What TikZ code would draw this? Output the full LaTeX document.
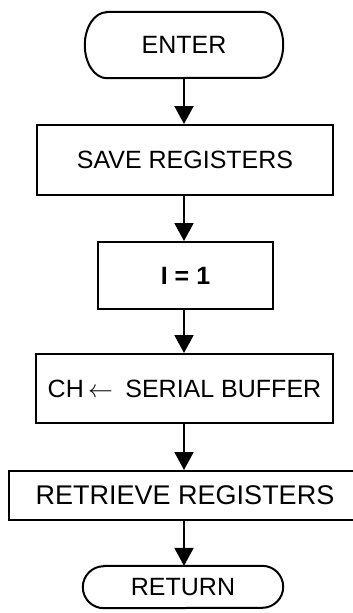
\documentclass[tikz,border=0pt]{standalone}
\usepackage{fontspec}
\setmainfont{Liberation Sans}
\usetikzlibrary{arrows.meta}

\tikzset{
  stepbox/.style={draw, line width=2pt, inner sep=0pt, minimum width=#1,
    font=\fontsize{25}{30}\selectfont},
  termnode/.style={inner sep=0pt, minimum width=#1,
    font=\fontsize{25}{30}\selectfont},
  outline/.style={line width=2pt},
  flow/.style={line width=2pt, -{Triangle[width=19pt,length=18pt]}},
}

\begin{document}
\begin{tikzpicture}[x=1pt, y=-1pt]
  \useasboundingbox (0,0) rectangle (353,613);

  % terminals and process boxes
  \node[termnode=198pt, minimum height=66pt] (enter) at (184,45) {ENTER};
  \node[stepbox=296pt, minimum height=70pt] (save) at (185,160) {SAVE REGISTERS};
  \node[stepbox=175pt, minimum height=67pt] (init) at (185.5,275.5) {\bfseries I = 1};
  \node[stepbox=297pt, minimum height=69pt] (fetch) at (184.5,388.5)
    {CH\,$\leftarrow$\enspace SERIAL BUFFER};
  \node[stepbox=352pt, minimum height=49pt, font=\fontsize{27}{32}\selectfont]
    (restore) at (185,495.5) {RETRIEVE REGISTERS};
  \node[termnode=200pt, minimum height=42pt] (ret) at (183,587) {RETURN};

  % stadium outlines of the two terminals
  \draw[outline] ([xshift=22pt]enter.north west) -- ([xshift=-22pt]enter.north east)
    arc[start angle=90, end angle=-90, x radius=22pt, y radius=33pt]
    -- ([xshift=22pt]enter.south west)
    arc[start angle=270, end angle=90, x radius=22pt, y radius=33pt] -- cycle;
  \draw[outline] ([xshift=21pt]ret.north west) -- ([xshift=-21pt]ret.north east)
    arc[start angle=90, end angle=-90, x radius=21pt, y radius=21pt]
    -- ([xshift=21pt]ret.south west)
    arc[start angle=270, end angle=90, x radius=21pt, y radius=21pt] -- cycle;

  % connectors
  \draw[flow] (enter.south) -- (enter.south |- save.north);
  \draw[flow] (enter.south |- save.south) -- (enter.south |- init.north);
  \draw[flow] (enter.south |- init.south) -- (enter.south |- fetch.north);
  \draw[flow] (enter.south |- fetch.south) -- (enter.south |- restore.north);
  \draw[flow] (enter.south |- restore.south) -- (enter.south |- ret.north);
\end{tikzpicture}
\end{document}
